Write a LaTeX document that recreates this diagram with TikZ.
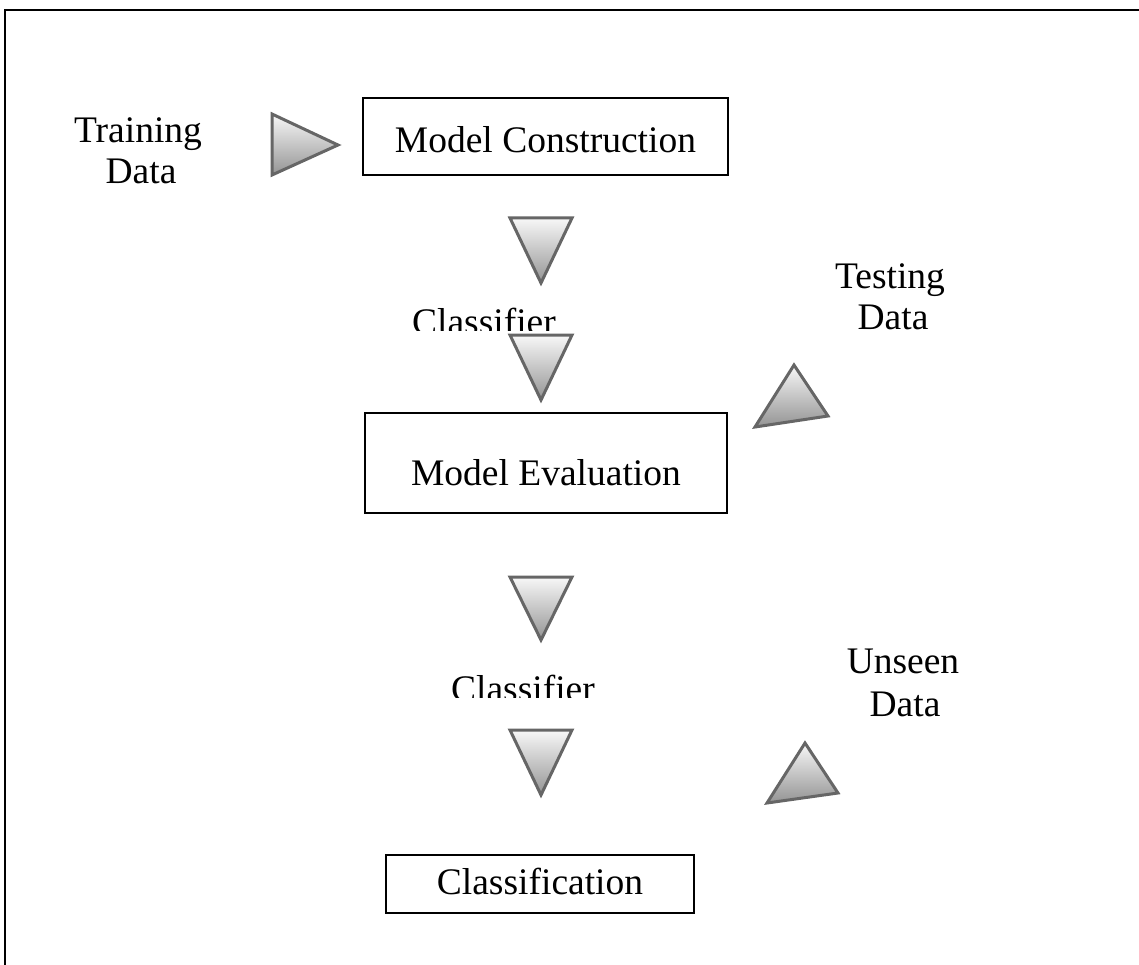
\documentclass[tikz,border=0pt]{standalone}
\usepackage{fontspec}
\setmainfont{Liberation Serif}
\begin{document}
\begin{tikzpicture}[x=1pt,y=-1pt,
  lbl/.style={anchor=base,inner sep=0pt,font=\fontsize{37.5}{41}\selectfont},
  stagebox/.style={draw=black,line width=2pt,rectangle,inner sep=0pt},
  tri/.style={draw=black!60,line width=3pt,line join=miter,top color=black!3,bottom color=black!42}]
\useasboundingbox (0,0) rectangle (1139,965);

% outer frame: top and left rules
\draw[line width=2.5pt] (5,965) -- (5,10) -- (1139,10);

% stage boxes
\node[stagebox,minimum width=365pt,minimum height=77pt] (construct) at (545.5,136.5) {};
\node[stagebox,minimum width=362pt,minimum height=100pt] (evaluate) at (546,463) {};
\node[stagebox,minimum width=308pt,minimum height=58pt] (classify) at (540,884) {};

\node[lbl] (tconstruct) at (545.5,153) {Model Construction};
\node[lbl] (tevaluate) at (546,485) {Model Evaluation};
\node[lbl] (tclassify) at (540,894) {Classification};

% input labels
\node[lbl] (train1) at (138,143) {Training};
\node[lbl] (train2) at (141,184) {Data};
\node[lbl] (test1) at (890,289) {Testing};
\node[lbl] (test2) at (893,329) {Data};
\node[lbl] (unseen1) at (903,673) {Unseen};
\node[lbl] (unseen2) at (905,716) {Data};

% classifier labels, trimmed just above the baseline
\begin{scope}
  \clip (380,250) rectangle (640,330);
  \node[lbl] (clf1) at (484,334) {Classifier};
\end{scope}
\begin{scope}
  \clip (420,640) rectangle (680,697);
  \node[lbl] (clf2) at (523,701) {Classifier};
\end{scope}

% arrow triangles
\draw[tri] (272,114) -- (272,175) -- (338,145) -- cycle;
\draw[tri] (510,218) -- (572,218) -- (541,283) -- cycle;
\draw[tri] (510,335) -- (572,335) -- (541,400) -- cycle;
\draw[tri] (794,365) -- (828,416) -- (755,427) -- cycle;
\draw[tri] (510,577) -- (572,577) -- (541,640) -- cycle;
\draw[tri] (510,730) -- (572,730) -- (541,795) -- cycle;
\draw[tri] (805,743) -- (838,793) -- (767,803) -- cycle;
\end{tikzpicture}
\end{document}
